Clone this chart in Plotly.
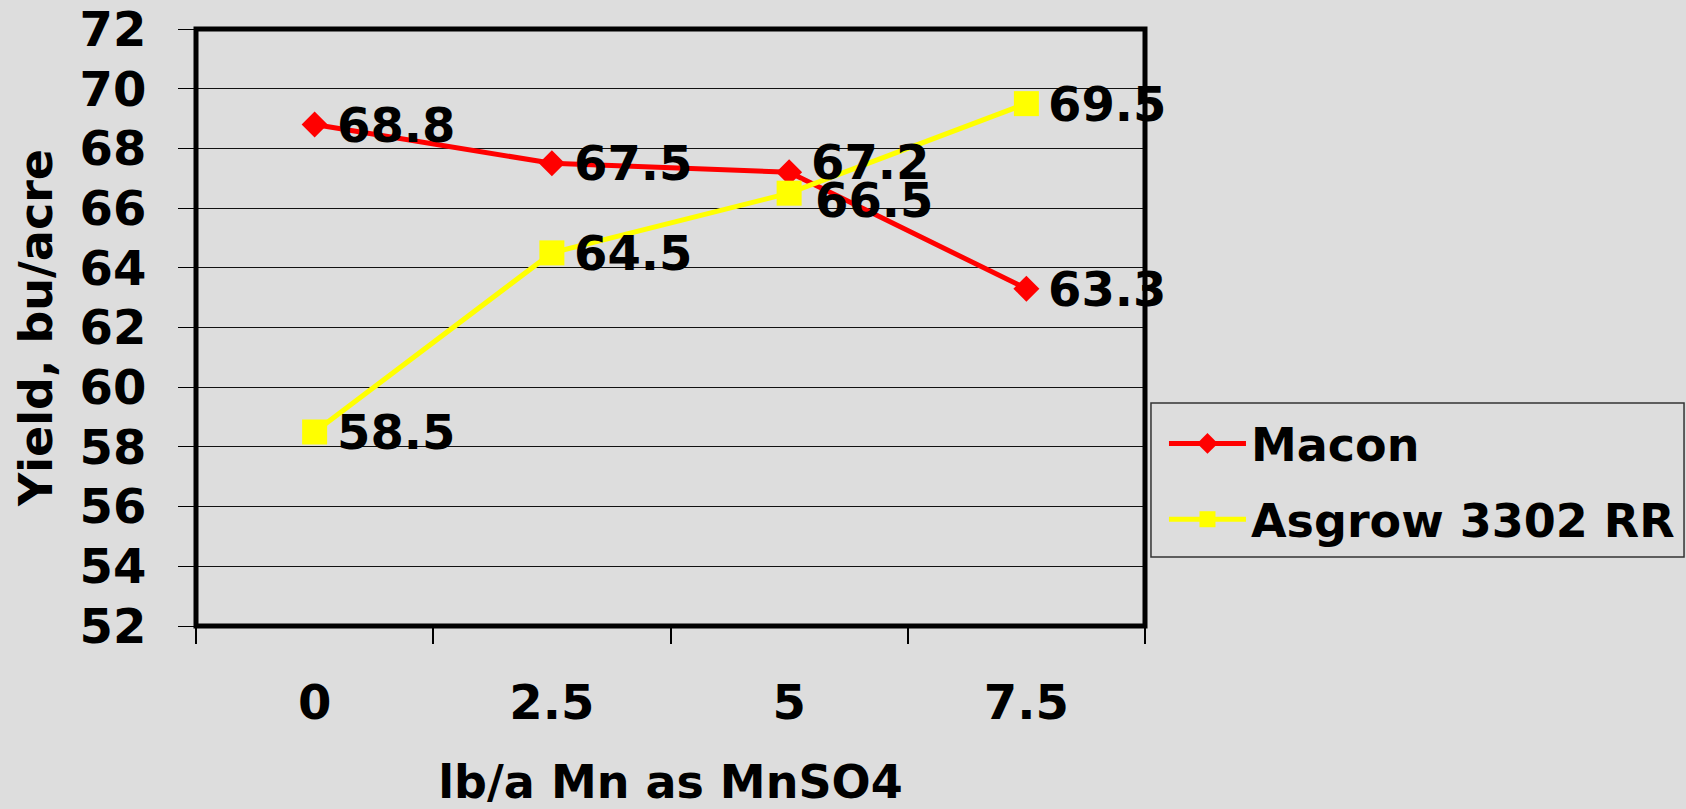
import plotly.graph_objects as go

categories = ["0", "2.5", "5", "7.5"]
macon = [68.8, 67.5, 67.2, 63.3]
asgrow = [58.5, 64.5, 66.5, 69.5]
series_names = ["Macon", "Asgrow 3302 RR"]
y_title = "Yield, bu/acre"
x_title = "lb/a Mn as MnSO4"

BG = "#dddddd"
FONT = "DejaVu Sans"

fig = go.Figure()
fig.add_trace(go.Scatter(
    x=categories, y=macon, name=series_names[0], mode="lines+markers",
    legendgroup="g1",
    line=dict(color="#ff0000", width=5),
    marker=dict(symbol="diamond", size=20, color="#ff0000"),
))
fig.add_trace(go.Scatter(
    x=categories, y=asgrow, name=series_names[1], mode="lines+markers",
    legendgroup="g2",
    line=dict(color="#ffff00", width=5),
    marker=dict(symbol="square", size=25, color="#ffff00"),
))

# data labels (x given as category index)
label_yshift = {0: [0, 0, 10, 0], 1: [0, 0, -7, 0]}
label_xshift = {0: [0, 0, 0, 0], 1: [0, 0, 4, 0]}
for si, vals in enumerate([macon, asgrow]):
    for i, v in enumerate(vals):
        fig.add_annotation(
            x=i, y=v, xref="x", yref="y", text=f"{v:.1f}", showarrow=False,
            xanchor="left", yanchor="middle",
            xshift=20 + label_xshift[si][i], yshift=label_yshift[si][i],
            font=dict(family=FONT, size=48, color="black", weight="bold"),
        )

# plot border
fig.add_shape(type="rect", xref="paper", yref="paper", x0=0, x1=1, y0=0, y1=1,
              line=dict(color="black", width=5), layer="above")
# legend frame
fig.add_shape(type="rect", xref="paper", yref="paper",
              x0=1.0063, x1=1.568, y0=0.1156, y1=0.3735,
              line=dict(color="#333333", width=1.5), layer="above")

fig.update_layout(
    width=1686, height=809,
    paper_bgcolor=BG, plot_bgcolor=BG,
    margin=dict(l=196, r=541, t=29, b=183, autoexpand=False),
    font=dict(family=FONT, size=48, color="black", weight="bold"),
    showlegend=True,
    legend=dict(
        x=1.02, y=0.3668, xanchor="left", yanchor="top",
        bgcolor="rgba(0,0,0,0)", borderwidth=0,
        font=dict(family=FONT, size=46, color="black", weight="bold"),
        itemwidth=77, tracegroupgap=13,
    ),
    xaxis=dict(
        type="category", range=[-0.5, 3.5], tickson="boundaries",
        ticks="outside", ticklen=17, automargin=False,
        tickwidth=1.5, tickcolor="black", showgrid=False, showline=False,
        zeroline=False, ticklabelstandoff=44,
        tickfont=dict(family=FONT, size=48, weight="bold"),
        title=dict(text=x_title, standoff=36,
                   font=dict(family=FONT, size=46, weight="bold")),
    ),
    yaxis=dict(
        range=[52, 72], dtick=2, tick0=52, ticks="outside", ticklen=17,
        automargin=False,
        tickwidth=1.3, tickcolor="black", showgrid=True, gridcolor="#111111",
        gridwidth=1.3, showline=False, zeroline=False, ticklabelstandoff=22,
        tickfont=dict(family=FONT, size=48, weight="bold"),
        title=dict(text=y_title, standoff=12,
                   font=dict(family=FONT, size=46, weight="bold")),
    ),
)

fig.write_html(
    "out.html",
    config={"displayModeBar": False},
    post_script="document.body.style.margin='0';document.body.style.overflow='hidden';",
)
